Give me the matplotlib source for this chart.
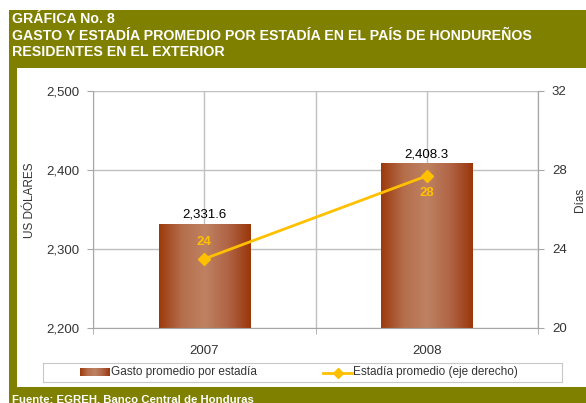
import numpy as np
import matplotlib
matplotlib.use("Agg")
import matplotlib.pyplot as plt
from matplotlib.colors import LinearSegmentedColormap
from matplotlib.patches import Rectangle

plt.rcParams['font.family'] = ['Liberation Sans', 'DejaVu Sans']

years = ['2007', '2008']
gasto = [2331.6, 2408.3]
estadia = [23.5, 27.7]
estadia_labels = ['24', '28']

olive = '#808000'
gold = '#FFC000'
grid_c = '#C0C0C0'
txt_c = '#333333'

fig = plt.figure(figsize=(5.86, 4.03), dpi=100)
W, H = 586, 403

# marco verde oliva
fig.patches.append(Rectangle((9 / W, 0), 1 - 9 / W, 1 - 10 / H, transform=fig.transFigure,
                             facecolor=olive, edgecolor='none', zorder=-3))
fig.patches.append(Rectangle((17 / W, 16 / H), 1 - 17 / W, (387 - 68) / H, transform=fig.transFigure,
                             facecolor='white', edgecolor='none', zorder=-2))

fig.text(12 / W, 1 - 19 / H, 'GRÁFICA No. 8', color='white', fontsize=10.2, weight='bold', va='center')
fig.text(12 / W, 1 - 36 / H, 'GASTO Y ESTADÍA PROMEDIO POR ESTADÍA EN EL PAÍS DE HONDUREÑOS',
         color='white', fontsize=10.2, weight='bold', va='center')
fig.text(12 / W, 1 - 52 / H, 'RESIDENTES EN EL EXTERIOR', color='white', fontsize=10.2, weight='bold', va='center')
fig.text(12 / W, 1 - 394 / H, 'Fuente: EGREH, Banco Central de Honduras', color='white',
         fontsize=8.2, weight='bold', va='top')

ax = fig.add_axes([93 / W, 1 - 328 / H, (538 - 93) / W, (328 - 91) / H])
ax.set_facecolor('none')
x = np.arange(len(years))
bars = ax.bar(x, gasto, width=0.41, color='none', zorder=2)
ax.set_xlim(-0.5, 1.5)
ax.set_ylim(2200, 2500)
ax.set_yticks([2200, 2300, 2400, 2500])
ax.set_yticklabels(['2,200', '2,300', '2,400', '2,500'])
ax.set_xticks(x)
ax.set_xticklabels(years)
ax.set_xticks([-0.5, 0.5, 1.5], minor=True)

# degradado de las barras
cmap = LinearSegmentedColormap.from_list('cobre', ['#9C3A0C', '#B56E4C', '#BE8262', '#B06546', '#9A360A'])
grad = np.linspace(0, 1, 256).reshape(1, -1)
for b in bars:
    x0, y0 = b.get_x(), b.get_y()
    ax.imshow(grad, cmap=cmap, aspect='auto', extent=(x0, x0 + b.get_width(), y0, y0 + b.get_height()),
              zorder=2)
ax.set_xlim(-0.5, 1.5)
ax.set_ylim(2200, 2500)

for xi, v in zip(x, gasto):
    ax.text(xi, v + 4, f'{v:,.1f}', ha='center', va='bottom', fontsize=9.5, color='black', zorder=5)

ax.grid(axis='y', color=grid_c, linewidth=1, zorder=0)
ax.grid(axis='x', which='both', color=grid_c, linewidth=1, zorder=0)
ax.set_axisbelow(True)
ax.spines['top'].set_visible(False)
for s in ['left', 'bottom', 'right']:
    ax.spines[s].set_color('#A6A6A6')
ax.tick_params(axis='y', colors='#A6A6A6', labelcolor=txt_c, labelsize=9.5, length=4, pad=6)
ax.tick_params(axis='x', which='major', length=0, labelcolor=txt_c, labelsize=9.5, pad=12)
ax.tick_params(axis='x', which='minor', length=4, colors='#A6A6A6')
fig.text(30 / W, 1 - 200 / H, 'US DÓLARES', rotation=90, fontsize=8.5, color=txt_c, va='center', ha='center')

ax2 = ax.twinx()
ax2.set_zorder(3)
ax2.plot(x, estadia, color=gold, linewidth=2, marker='D', markersize=6.5)
ax2.set_ylim(20, 32)
ax2.set_yticks([20, 24, 28, 32])
ax2.tick_params(axis='y', colors='#A6A6A6', labelcolor=txt_c, labelsize=9.5, length=4, pad=6)
for s in ['top', 'left', 'bottom']:
    ax2.spines[s].set_visible(False)
ax2.spines['right'].set_color('#A6A6A6')
offsets = [12, -12]
for xi, v, lab, off in zip(x, estadia, estadia_labels, offsets):
    ax2.annotate(lab, (xi, v), xytext=(0, off), textcoords='offset points', ha='center', va='center',
                 fontsize=9.5, weight='bold', color=gold)

fig.text(580 / W, 1 - 200 / H, 'Días', rotation=90, fontsize=8.5, color=txt_c, va='center', ha='center')

# leyenda
lax = fig.add_axes([43 / W, 1 - 382 / H, (562 - 43) / W, (382 - 363) / H])
lax.set_xticks([])
lax.set_yticks([])
for s in lax.spines.values():
    s.set_color('#C8C8C8')
lax.imshow(grad, cmap=cmap, aspect='auto', extent=(80, 110, 0.3, 0.7))
lax.set_xlim(43, 562)
lax.set_ylim(0, 1)
lax.text(111, 0.5, 'Gasto promedio por estadía', fontsize=8.5, color=txt_c, va='center')
lax.plot([323, 352], [0.5, 0.5], color=gold, linewidth=2)
lax.plot([337.5], [0.5], color=gold, marker='D', markersize=5)
lax.text(353, 0.5, 'Estadía promedio (eje derecho)', fontsize=8.5, color=txt_c, va='center')

fig.savefig('out.png', dpi=100)
